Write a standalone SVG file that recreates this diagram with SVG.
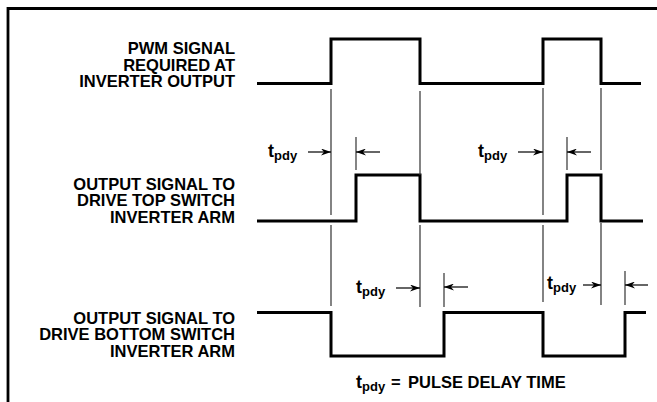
<svg xmlns="http://www.w3.org/2000/svg" width="657" height="402" viewBox="0 0 657 402">
<defs>
<style>
.lbl{font-family:"Liberation Sans",Arial,sans-serif;font-weight:bold;font-size:16.5px;fill:#000}
.t{font-family:"Liberation Sans",Arial,sans-serif;font-weight:bold;font-size:18px;fill:#000}
.sub{font-size:13px}
.wave{fill:none;stroke:#000;stroke-width:3;stroke-linejoin:miter;stroke-linecap:butt}
.guide{stroke:#333;stroke-width:1.2;fill:none}
.arr{stroke:#000;stroke-width:1.2;fill:none}
.frame{stroke:#000;stroke-width:2.8;fill:none}
</style>
<marker id="ah" viewBox="0 0 10 7" refX="10" refY="3.5" markerWidth="10" markerHeight="7" markerUnits="userSpaceOnUse" orient="auto">
<path d="M0,0 L10,3.5 L0,7 L3,3.5 z" fill="#000"/>
</marker>
</defs>
<path class="frame" d="M8,402 V8.5 H657"/>

<g id="label-pwm">
<text class="lbl" text-anchor="end" x="235" y="54">PWM SIGNAL</text>
<text class="lbl" text-anchor="end" x="235" y="70.5">REQUIRED AT</text>
<text class="lbl" text-anchor="end" x="235" y="87">INVERTER OUTPUT</text>
</g>
<g id="label-top">
<text class="lbl" text-anchor="end" x="235" y="189.5">OUTPUT SIGNAL TO</text>
<text class="lbl" text-anchor="end" x="235" y="206">DRIVE TOP SWITCH</text>
<text class="lbl" text-anchor="end" x="235" y="222.5">INVERTER ARM</text>
</g>
<g id="label-bottom">
<text class="lbl" text-anchor="end" x="235" y="323.5">OUTPUT SIGNAL TO</text>
<text class="lbl" text-anchor="end" x="235" y="340">DRIVE BOTTOM SWITCH</text>
<text class="lbl" text-anchor="end" x="235" y="356.5">INVERTER ARM</text>
</g>

<g id="wave-pwm">
<path class="wave" d="M257,83.5 H331 V39 H420 V83.5 H543 V39 H601 V83.5 H641"/>
</g>
<g id="wave-top">
<path class="wave" d="M257,221 H356 V175 H420 V221 H567 V175 H601 V221 H643"/>
</g>
<g id="wave-bottom">
<path class="wave" d="M257,312.5 H331 V356 H444 V312.5 H543 V356 H625 V312.5 H646"/>
</g>

<g id="connectors">
<path class="guide" d="M331,89 V215 M331,225 V306"/>
<path class="guide" d="M420,91 V175 M420,225 V307"/>
<path class="guide" d="M356,137 V170"/>
<path class="guide" d="M543,88 V215 M543,225 V302"/>
<path class="guide" d="M567,137 V170"/>
<path class="guide" d="M601,88 V170 M601,223 V305"/>
<path class="guide" d="M444,273 V307"/>
<path class="guide" d="M625,271 V305"/>
<line class="arr" x1="308" y1="152" x2="331" y2="152" marker-end="url(#ah)"/>
<line class="arr" x1="380" y1="152" x2="356" y2="152" marker-end="url(#ah)"/>
<line class="arr" x1="518" y1="152" x2="543" y2="152" marker-end="url(#ah)"/>
<line class="arr" x1="591" y1="152" x2="567" y2="152" marker-end="url(#ah)"/>
<line class="arr" x1="396" y1="288" x2="420" y2="288" marker-end="url(#ah)"/>
<line class="arr" x1="468" y1="287" x2="444" y2="287" marker-end="url(#ah)"/>
<line class="arr" x1="583" y1="285" x2="601" y2="285" marker-end="url(#ah)"/>
<line class="arr" x1="648" y1="285" x2="625" y2="285" marker-end="url(#ah)"/>
</g>

<g id="tpdy-labels">
<text class="t" x="268" y="157">t<tspan class="sub" dy="3">pdy</tspan></text>
<text class="t" x="478" y="157">t<tspan class="sub" dy="3">pdy</tspan></text>
<text class="t" x="356" y="293">t<tspan class="sub" dy="3">pdy</tspan></text>
<text class="t" x="547" y="289">t<tspan class="sub" dy="3">pdy</tspan></text>
</g>
<g id="legend">
<text class="t" x="356" y="388">t<tspan class="sub" dy="3">pdy</tspan></text>
<text class="lbl" x="391" y="388">=</text>
<text class="lbl" x="408" y="388">PULSE DELAY TIME</text>
</g>
</svg>
